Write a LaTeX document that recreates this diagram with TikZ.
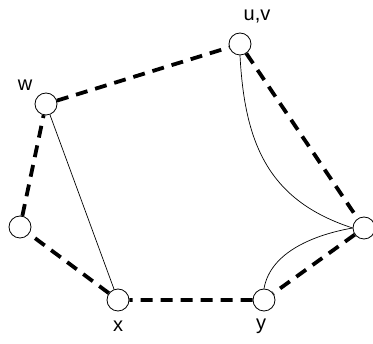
\documentclass[tikz,border=0pt]{standalone}
\usepackage{fontspec}
\setmainfont{Liberation Sans}
\definecolor{ink}{HTML}{000000}
\tikzset{vert/.style={circle,draw=ink,fill=white,line width=0.8pt,minimum size=22pt,inner sep=0pt},
  tour/.style={draw=ink,line width=3.8pt,dash pattern=on 12pt off 8pt},
  chord/.style={draw=ink,line width=0.7pt}}
\begin{document}
\begin{tikzpicture}[x=1pt,y=-1pt,font=\fontsize{20}{24}\selectfont]
\useasboundingbox (0,0) rectangle (373,344);
\node[vert] (uv) at (240,44) {};
\node[vert] (w) at (46,104) {};
\node[vert] (l) at (20,227) {};
\node[vert] (x) at (118,300) {};
\node[vert] (y) at (264,300) {};
\node[vert] (r) at (364,228) {};
\node (uvlab) at (257,17) {u,v};
\node (wlab) at (25,85) {w};
\node (xlab) at (118,326) {x};
\node (ylab) at (261,326) {y};
\draw[tour] (w) -- (uv) -- (r) -- (y) -- (x) -- (l) -- (w);
\draw[chord] (w) -- (x);
\draw[chord] (uv.south) to[out=-87,in=162,looseness=1.1] (r.west);
\draw[chord] (y.north) to[out=80,in=190,looseness=0.9] (r.west);
\end{tikzpicture}
\end{document}
